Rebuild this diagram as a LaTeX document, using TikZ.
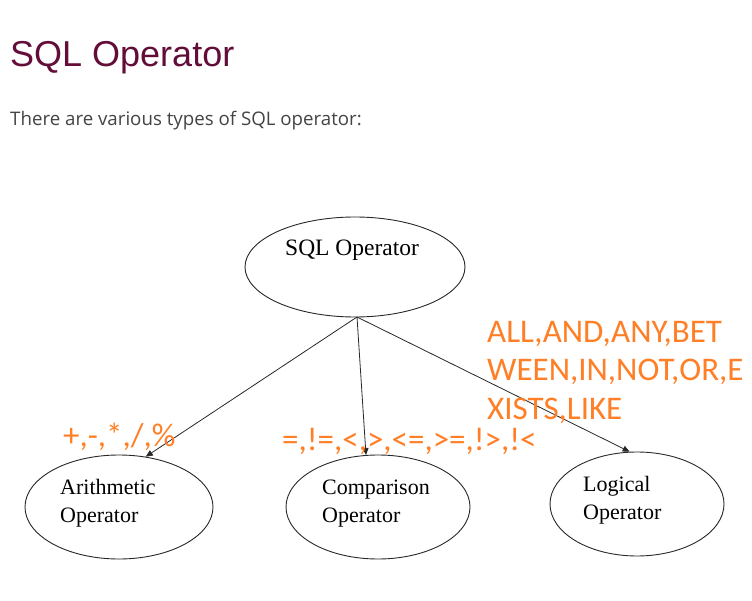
\documentclass[tikz,border=0pt]{standalone}
\usepackage{fontspec}
\usetikzlibrary{shapes.geometric,arrows.meta}
\newfontfamily\titlefont{Liberation Sans}
\newfontfamily\bodyfont{Open Sans}
\newfontfamily\orangefont{Carlito}
\newfontfamily\nodefont{Liberation Serif}
\definecolor{titlecol}{RGB}{98,14,56}
\definecolor{bodycol}{RGB}{68,68,68}
\definecolor{opcol}{RGB}{255,127,39}
\definecolor{linecol}{RGB}{40,40,40}
\tikzset{
  oval/.style={ellipse, draw=linecol, line width=0.9pt, inner sep=0pt},
  ovaltext/.style={anchor=base west, inner sep=0pt, align=left, font=\nodefont\fontsize{22}{27.5}\selectfont, text=black},
  optext/.style={anchor=base west, inner sep=0pt, align=left, font=\orangefont\fontsize{33}{38.5}\selectfont, text=opcol},
  conn/.style={draw=linecol, line width=0.8pt, -{Triangle[length=7pt,width=6pt]}}
}
\begin{document}
\begin{tikzpicture}[x=1pt,y=-1pt]
\useasboundingbox (0,0) rectangle (752,601);
\fill[white] (0,0) rectangle (752,601);
\node[anchor=base west, inner sep=0pt, text=titlecol, font=\titlefont\fontsize{36}{40}\selectfont] (title) at (10,67) {SQL Operator};
\node[anchor=base west, inner sep=0pt, text=bodycol, font=\bodyfont\fontsize{18.7}{22}\selectfont] (sub) at (10,126) {There are various types of SQL operator:};
% ellipses
\node[oval, minimum width=220pt, minimum height=100pt] (top) at (355,267) {};
\node[oval, minimum width=188pt, minimum height=104pt] (arith) at (119,507) {};
\node[oval, minimum width=184pt, minimum height=104pt] (comp) at (378,507) {};
\node[oval, minimum width=174pt, minimum height=104pt] (logic) at (637,504) {};
% texts
\node[ovaltext, font=\nodefont\fontsize{23.5}{27}\selectfont] (toptext) at (285,256) {SQL Operator};
\node[ovaltext] (arithtext) at (60,522) {Arithmetic\\Operator};
\node[ovaltext] (comptext) at (322,522) {Comparison\\Operator};
\node[ovaltext] (logictext) at (583,519) {Logical\\Operator};
% connectors
\coordinate (src) at (357,317);
\draw[conn] (src) -- (arith.62);
\draw[conn] (src) -- (comp.103.5);
\draw[conn] (src) -- (logic.98.7);
% orange labels
\node[optext] (arithops) at (63,446) {+,-,*,/,\%};
\node[optext] (compops) at (282,450) {=,!=,<,>,<=,>=,!>,!<};
\node[optext] (logicops) at (487,419) {ALL,AND,ANY,BET\\WEEN,IN,NOT,OR,E\\XISTS,LIKE};
\end{tikzpicture}
\end{document}
